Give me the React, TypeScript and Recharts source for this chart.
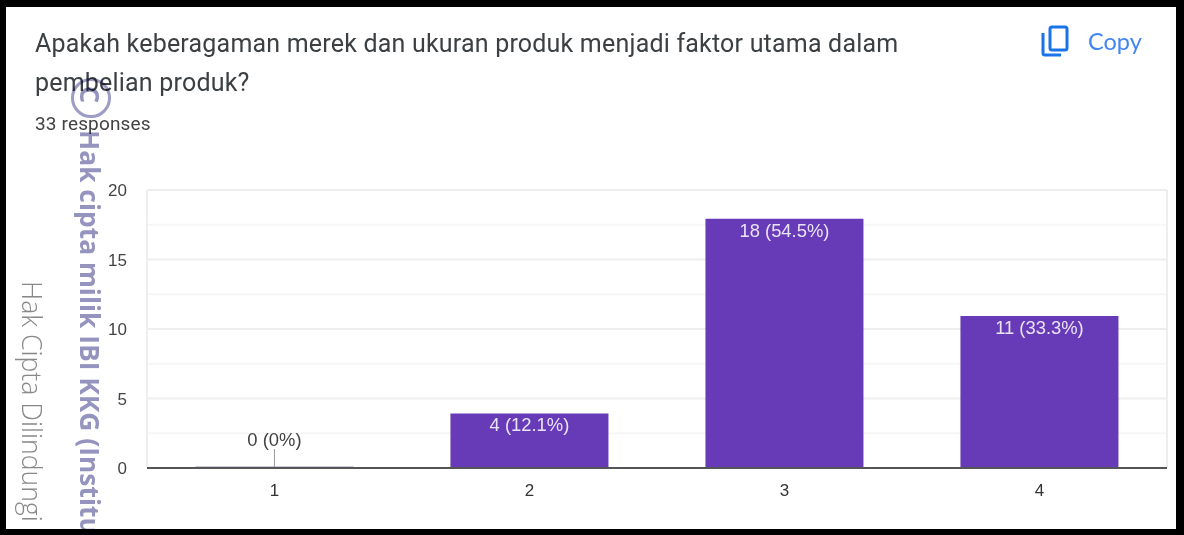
import { BarChart, Bar, XAxis, YAxis, CartesianGrid, Rectangle } from 'recharts'

const CATEGORIES = ['1', '2', '3', '4']
const COUNTS = [0, 4, 18, 11]
const PERCENTS = ['0%', '12.1%', '54.5%', '33.3%']
const MAJOR_TICKS = [0, 5, 10, 15, 20]
const MINOR_TICKS = [2.5, 7.5, 12.5, 17.5]

const rows = CATEGORIES.map((name, i) => ({ name, count: COUNTS[i], pct: PERCENTS[i] }))

const AXIS_FONT = 'Arial, "Liberation Sans", sans-serif'

// drawn as the bar shape so the zero bar still gets its stub and callout
function BarShape(props: any) {
  const { x, y, width, height, payload } = props
  const text = `${payload.count} (${payload.pct})`
  const cx = x + width / 2
  if (payload.count === 0) {
    return (
      <g>
        <line x1={x} x2={x + width} y1={y - 1} y2={y - 1} stroke="#9a93b5" strokeWidth={1} />
        <line x1={cx} x2={cx} y1={y - 19} y2={y} stroke="#9e9e9e" strokeWidth={1} />
        <text x={cx} y={y - 22} textAnchor="middle" fontSize={18.4} fontFamily={AXIS_FONT} fill="#424242">
          {text}
        </text>
      </g>
    )
  }
  return (
    <g>
      <Rectangle x={x} y={y + 1} width={width} height={height - 1} fill="#673ab7" />
      <text x={cx} y={y + 19} textAnchor="middle" fontSize={18.4} fontFamily={AXIS_FONT} fill="#e9e4f5">
        {text}
      </text>
    </g>
  )
}

function CopyIcon() {
  return (
    <svg width={30} height={34} viewBox="0 0 30 34" style={{ position: 'absolute', left: 1041, top: 24 }}>
      <path d="M2 9 V29 Q2 31 4 31 H20" fill="none" stroke="#1a73e8" strokeWidth={3} />
      <rect x={9} y={3} width={17} height={23} rx={2} fill="none" stroke="#1a73e8" strokeWidth={3} />
    </svg>
  )
}

export default function App() {
  return (
    <div style={{ position: 'absolute', left: 0, top: 0, width: 1184, height: 535, background: '#000', overflow: 'hidden' }}>
      <div style={{ position: 'absolute', left: 6, top: 7, width: 1170, height: 522, background: '#fff' }} />

      <div style={{ position: 'absolute', left: 0, top: 0 }}>
        <BarChart width={1184} height={535} data={rows} margin={{ top: 190, right: 17, bottom: 0, left: 107 }} barCategoryGap="19%">
          <CartesianGrid vertical={false} horizontalValues={MINOR_TICKS} stroke="#f6f6f6" strokeWidth={2} />
          <CartesianGrid
            horizontalValues={MAJOR_TICKS}
            verticalCoordinatesGenerator={({ offset }: any) => [offset.left, offset.left + offset.width]}
            stroke="#eeeeee"
            strokeWidth={2}
          />
          <XAxis
            dataKey="name"
            tickLine={false}
            axisLine={{ stroke: '#555', strokeWidth: 2 }}
            tickSize={0}
            tickMargin={16}
            tick={{ fontSize: 17, fontFamily: AXIS_FONT, fill: '#333' }}
            height={67}
          />
          <YAxis
            width={40}
            domain={[0, 20]}
            ticks={MAJOR_TICKS}
            axisLine={false}
            tickLine={false}
            tickSize={0}
            tickMargin={20}
            tick={{ fontSize: 17, fontFamily: AXIS_FONT, fill: '#444' }}
          />
          <Bar dataKey="count" fill="#673ab7" isAnimationActive={false} shape={BarShape} />
        </BarChart>
      </div>

      <div style={{ position: 'absolute', left: 35, top: 24, width: 900, fontFamily: 'Roboto, sans-serif', fontSize: 25, letterSpacing: 0.2, lineHeight: '39px', color: '#3c4043' }}>
        Apakah keberagaman merek dan ukuran produk menjadi faktor utama dalam
        <br />
        pembelian produk?
      </div>
      <div style={{ position: 'absolute', left: 35, top: 113, fontFamily: 'Roboto, sans-serif', fontSize: 19, letterSpacing: 0.15, lineHeight: '22px', color: '#424242' }}>
        33 responses
      </div>

      <CopyIcon />
      <div style={{ position: 'absolute', left: 1088, top: 27, fontFamily: 'Lato, sans-serif', fontSize: 23.5, lineHeight: '28px', color: '#4285f4' }}>
        Copy
      </div>

      <div style={{ mixBlendMode: 'multiply', position: 'absolute', left: 0, top: 0, width: 1184, height: 535 }}>
        <div style={{ position: 'absolute', left: 71, top: 78, width: 40, height: 40, borderRadius: 20, border: '3px solid #9c9cc6', boxSizing: 'border-box' }} />
        <div style={{ position: 'absolute', left: 106, top: 86, transformOrigin: '0 0', transform: 'rotate(90deg)', whiteSpace: 'nowrap', fontFamily: '"Open Sans", sans-serif', fontWeight: 700, fontSize: 27, lineHeight: '32px', color: '#9494bf' }}>
          C
        </div>
        <div style={{ position: 'absolute', left: 106, top: 130, transformOrigin: '0 0', transform: 'rotate(90deg)', whiteSpace: 'nowrap', fontFamily: '"Open Sans", sans-serif', fontWeight: 700, fontSize: 26.4, lineHeight: '32px', color: '#9494bf' }}>
          Hak cipta milik IBI KKG (Institu
        </div>
        <div style={{ position: 'absolute', left: 47, top: 281, transformOrigin: '0 0', transform: 'rotate(90deg)', whiteSpace: 'nowrap', fontFamily: '"Open Sans", sans-serif', fontWeight: 300, fontSize: 26.6, lineHeight: '30px', color: '#888' }}>
          Hak Cipta Dilindungi
        </div>
      </div>
    </div>
  )
}
